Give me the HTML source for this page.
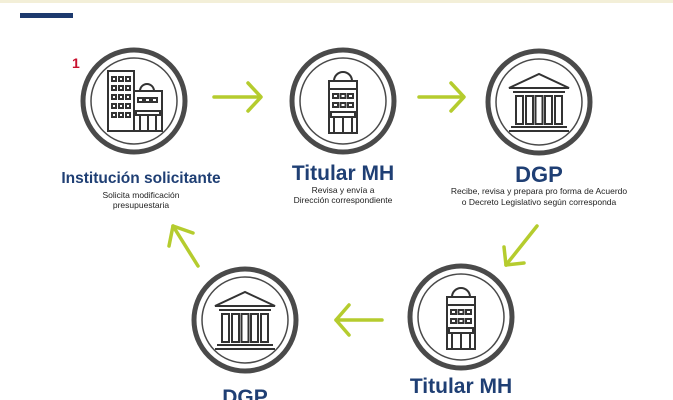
<!DOCTYPE html>
<html><head><meta charset="utf-8"><style>
html,body{margin:0;padding:0;background:#fff;width:673px;height:400px;overflow:hidden}
svg{display:block}
</style></head><body>
<svg width="673" height="400" viewBox="0 0 673 400" xmlns="http://www.w3.org/2000/svg" font-family="Liberation Sans, Arial, sans-serif">
<defs>
<g id="ring">
  <circle r="51" fill="#fff" stroke="#4a4a4a" stroke-width="5"/>
  <circle r="43" fill="none" stroke="#4a4a4a" stroke-width="1.5"/>
</g>
<g id="bank" fill="none" stroke="#333" stroke-width="2">
  <polygon points="-30,-14 0,-28 30,-14"/>
  <line x1="-30" y1="-14" x2="30" y2="-14"/>
  <line x1="-26" y1="-10" x2="26" y2="-10"/>
  <rect x="-23" y="-6" width="7" height="28"/>
  <rect x="-13" y="-6" width="7" height="28"/>
  <rect x="-3.5" y="-6" width="7" height="28"/>
  <rect x="6" y="-6" width="7" height="28"/>
  <rect x="16" y="-6" width="7" height="28"/>
  <line x1="-28" y1="25" x2="28" y2="25"/>
  <line x1="-30" y1="29" x2="30" y2="29"/>
</g>
<g id="tower" fill="none" stroke="#333" stroke-width="2">
  <path d="M-9,-20 a9,9 0 0 1 18,0"/>
  <rect x="-14" y="-20" width="28" height="8"/>
  <rect x="-14" y="-12" width="28" height="44"/>
  <rect x="-10" y="-7" width="5" height="4"/><rect x="-2.5" y="-7" width="5" height="4"/><rect x="5" y="-7" width="5" height="4"/>
  <rect x="-10" y="2" width="5" height="4"/><rect x="-2.5" y="2" width="5" height="4"/><rect x="5" y="2" width="5" height="4"/>
  <rect x="-12" y="11" width="24" height="5"/>
  <line x1="-9" y1="16" x2="-9" y2="32"/><line x1="0" y1="16" x2="0" y2="32"/><line x1="9" y1="16" x2="9" y2="32"/>
</g>
</defs>

<rect x="0" y="0" width="673" height="3" fill="#f3efd8"/>
<rect x="20" y="13" width="53" height="5" fill="#1d3a6e"/>

<!-- circles -->
<use href="#ring" x="134" y="101"/>
<g transform="translate(134,101)" fill="none" stroke="#333" stroke-width="2">
  <rect x="-26" y="-30" width="26" height="60"/>
  <g>
  <rect x="-22" y="-24" width="4" height="4"/><rect x="-15" y="-24" width="4" height="4"/><rect x="-8" y="-24" width="4" height="4"/>
  <rect x="-22" y="-15" width="4" height="4"/><rect x="-15" y="-15" width="4" height="4"/><rect x="-8" y="-15" width="4" height="4"/>
  <rect x="-22" y="-6" width="4" height="4"/><rect x="-15" y="-6" width="4" height="4"/><rect x="-8" y="-6" width="4" height="4"/>
  <rect x="-22" y="3" width="4" height="4"/><rect x="-15" y="3" width="4" height="4"/><rect x="-8" y="3" width="4" height="4"/>
  <rect x="-22" y="12" width="4" height="4"/><rect x="-15" y="12" width="4" height="4"/><rect x="-8" y="12" width="4" height="4"/>
  </g>
  <path d="M6,-10 a7,7 0 0 1 14,0"/>
  <rect x="0" y="-10" width="28" height="40"/>
  <rect x="4" y="-3" width="5" height="4"/><rect x="11" y="-3" width="5" height="4"/><rect x="18" y="-3" width="5" height="4"/>
  <rect x="2" y="10" width="24" height="4"/>
  <line x1="6" y1="14" x2="6" y2="30"/><line x1="14" y1="14" x2="14" y2="30"/><line x1="22" y1="14" x2="22" y2="30"/>
</g>
<use href="#ring" x="343" y="101"/><use href="#tower" x="343" y="101"/>
<use href="#ring" x="539" y="102"/><use href="#bank" x="539" y="102"/>
<use href="#ring" x="245" y="320"/><use href="#bank" x="245" y="320"/>
<use href="#ring" x="461" y="317"/><use href="#tower" x="461" y="317"/>

<text x="72" y="68" font-size="14" font-weight="bold" fill="#c8102e">1</text>

<!-- arrows -->
<g fill="none" stroke="#b5cc2e" stroke-width="3.5" stroke-linecap="round" stroke-linejoin="round">
  <line x1="214" y1="97" x2="260" y2="97"/><polyline points="248,83 261,97 248,111"/>
  <line x1="419" y1="97" x2="463" y2="97"/><polyline points="451,83 464,97 451,111"/>
  <line x1="537" y1="226" x2="506" y2="265"/><polyline points="504,247 506,265 524,263"/>
  <line x1="382" y1="320" x2="336" y2="320"/><polyline points="349,305 336,320 349,335"/>
  <line x1="198" y1="266" x2="173" y2="226"/><polyline points="169,246 173,226 193,233"/>
</g>

<!-- labels -->
<g fill="#1f3f74" font-weight="bold" text-anchor="middle">
  <text x="141" y="183" font-size="15.5">Institución solicitante</text>
  <text x="343" y="180" font-size="21">Titular MH</text>
  <text x="539" y="182" font-size="22">DGP</text>
  <text x="245" y="404" font-size="21">DGP</text>
  <text x="461" y="393" font-size="21">Titular MH</text>
</g>
<g fill="#222" font-size="8.5" text-anchor="middle">
  <text x="141" y="198">Solicita modificación</text>
  <text x="141" y="208">presupuestaria</text>
  <text x="343" y="193">Revisa y envía a</text>
  <text x="343" y="203">Dirección correspondiente</text>
  <text x="539" y="194">Recibe, revisa y prepara pro forma de Acuerdo</text>
  <text x="539" y="205">o Decreto Legislativo según corresponda</text>
</g>
</svg>
</body></html>
